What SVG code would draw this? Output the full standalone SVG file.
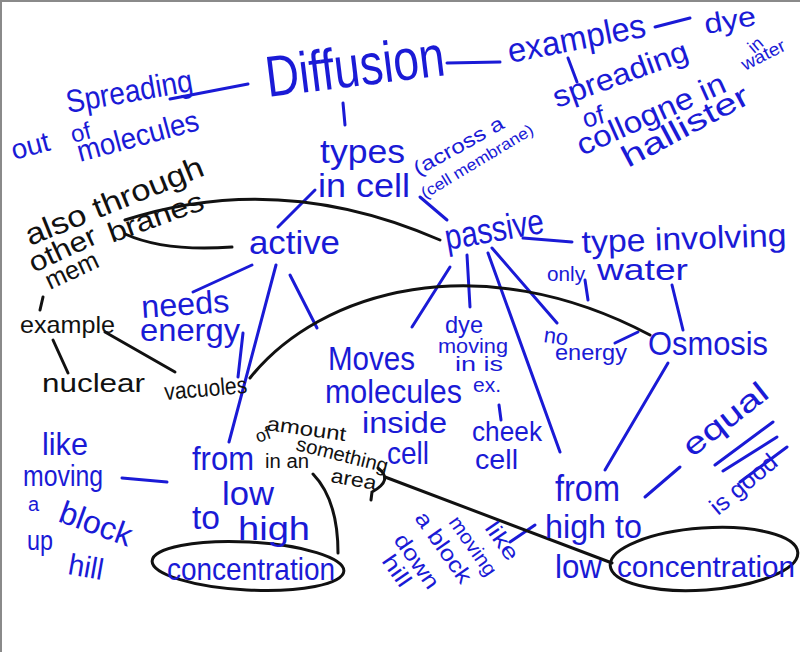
<svg xmlns="http://www.w3.org/2000/svg" width="800" height="652" viewBox="0 0 800 652">
<style>
.b{fill:#1a1ad6;font-family:"Liberation Sans",Arial,sans-serif;}
.k{fill:#111;font-family:"Liberation Sans",Arial,sans-serif;}
.lb{stroke:#1a1ad6;stroke-width:3;fill:none;stroke-linecap:round;}
.lk{stroke:#111;stroke-width:3;fill:none;stroke-linecap:round;}
</style>
<rect x="0" y="0" width="800" height="652" fill="#fff"/>
<path d="M0,1 H800 M1,0 V652" stroke="#8a8a8a" stroke-width="2" fill="none"/>

<g id="connectors">
  <path class="lb" d="M170,99 L248,84"/>
  <path class="lb" d="M447,63 L500,62"/>
  <path class="lb" d="M655,27 L690,18"/>
  <path class="lb" d="M568,58 L577,82"/>
  <path class="lb" d="M343,103 L345,125"/>
  <path class="lb" d="M315,190 L278,227"/>
  <path class="lb" d="M420,197 L447,220"/>
  <path class="lb" d="M523,238 L572,242"/>
  <path class="lb" d="M585,280 L588,300"/>
  <path class="lb" d="M672,285 L683,330"/>
  <path class="lb" d="M615,343 L638,332"/>
  <path class="lb" d="M450,267 L412,327"/>
  <path class="lb" d="M467,255 L470,307"/>
  <path class="lb" d="M488,253 L560,452"/>
  <path class="lb" d="M492,248 L557,323"/>
  <path class="lb" d="M252,265 L193,292"/>
  <path class="lb" d="M276,265 L229,442"/>
  <path class="lb" d="M290,275 L317,328"/>
  <path class="lb" d="M243,333 L238,377"/>
  <path class="lb" d="M499,405 L501,420"/>
  <path class="lb" d="M668,363 L605,470"/>
  <path class="lb" d="M645,497 L680,467"/>
  <path class="lb" d="M510,542 L535,525"/>
  <path class="lb" d="M122,478 L167,482"/>
  <path class="lb" d="M715,465 L773,422 M723,471 L777,437 M740,482 L787,447"/>
  <path class="lk" d="M125,220 Q280,170 440,240"/>
  <path class="lk" d="M125,234 Q165,252 232,247"/>
  <path class="lk" d="M250,378 C320,290 480,245 650,335"/>
  <path class="lk" d="M43,297 L40,310"/>
  <path class="lk" d="M53,340 L68,373"/>
  <path class="lk" d="M105,332 L175,372"/>
  <path class="lk" d="M313,474 Q338,500 338,553"/>
  <path class="lk" d="M378,468 Q394,480 372,492 L371,500"/>
  <path class="lk" d="M385,477 L612,563"/>
  <ellipse class="lk" cx="248" cy="566" rx="96" ry="24" transform="rotate(3 248 566)"/>
  <ellipse class="lk" cx="704" cy="559" rx="94" ry="31" transform="rotate(-4 704 559)"/>
</g>

<g id="diffusion"><text class="b" font-size="58" textLength="180" lengthAdjust="spacingAndGlyphs" transform="translate(268,97) rotate(-7)">Diffusion</text></g>

<g id="definition">
  <text class="b" font-size="32" textLength="128" lengthAdjust="spacingAndGlyphs" transform="translate(68,113) rotate(-10)">Spreading</text>
  <text class="b" font-size="28" transform="translate(14,160) rotate(-15)">out</text>
  <text class="b" font-size="24" transform="translate(73,143) rotate(-15)">of</text>
  <text class="b" font-size="30" textLength="125" lengthAdjust="spacingAndGlyphs" transform="translate(80,162) rotate(-15)">molecules</text>
</g>

<g id="examples">
  <text class="b" font-size="34" textLength="140" lengthAdjust="spacingAndGlyphs" transform="translate(510,63) rotate(-11)">examples</text>
</g>
<g id="dye-in-water">
  <text class="b" font-size="28" textLength="52" lengthAdjust="spacingAndGlyphs" transform="translate(706,34) rotate(-10)">dye</text>
  <text class="b" font-size="18" transform="translate(754,54) rotate(-40)">in</text>
  <text class="b" font-size="18" textLength="47" lengthAdjust="spacingAndGlyphs" transform="translate(745,71) rotate(-27)">water</text>
</g>
<g id="spreading-collogne">
  <text class="b" font-size="30" textLength="142" lengthAdjust="spacingAndGlyphs" transform="translate(557,108) rotate(-20)">spreading</text>
  <text class="b" font-size="26" transform="translate(585,128) rotate(-15)">of</text>
  <text class="b" font-size="30" textLength="160" lengthAdjust="spacingAndGlyphs" transform="translate(582,156) rotate(-24)">collogne in</text>
  <text class="b" font-size="30" textLength="140" lengthAdjust="spacingAndGlyphs" transform="translate(628,168) rotate(-28)">hallister</text>
</g>

<g id="types">
  <text class="b" font-size="34" textLength="85" lengthAdjust="spacingAndGlyphs" x="320" y="163">types</text>
  <text class="b" font-size="34" textLength="92" lengthAdjust="spacingAndGlyphs" x="318" y="197">in cell</text>
  <text class="b" font-size="20" textLength="100" lengthAdjust="spacingAndGlyphs" transform="translate(418,176) rotate(-29)">(across a</text>
  <text class="b" font-size="16" textLength="128" lengthAdjust="spacingAndGlyphs" transform="translate(425,199) rotate(-31)">(cell membrane)</text>
</g>

<g id="active"><text class="b" font-size="34" textLength="91" lengthAdjust="spacingAndGlyphs" x="249" y="254">active</text></g>
<g id="passive"><text class="b" font-size="36" textLength="100" lengthAdjust="spacingAndGlyphs" transform="translate(447,250) rotate(-10)">passive</text></g>

<g id="membranes">
  <text class="k" font-size="30" textLength="190" lengthAdjust="spacingAndGlyphs" transform="translate(30,246) rotate(-22)">also through</text>
  <text class="k" font-size="28" textLength="72" lengthAdjust="spacingAndGlyphs" transform="translate(34,273) rotate(-25)">other</text>
  <text class="k" font-size="26" textLength="56" lengthAdjust="spacingAndGlyphs" transform="translate(50,290) rotate(-25)">mem</text>
  <text class="k" font-size="28" textLength="100" lengthAdjust="spacingAndGlyphs" transform="translate(112,243) rotate(-20)">branes</text>
</g>
<g id="example">
  <text class="k" font-size="24" textLength="95" lengthAdjust="spacingAndGlyphs" x="20" y="333">example</text>
  <text class="k" font-size="26" textLength="103" lengthAdjust="spacingAndGlyphs" x="42" y="392">nuclear</text>
  <text class="k" font-size="24" textLength="83" lengthAdjust="spacingAndGlyphs" transform="translate(165,400) rotate(-5)">vacuoles</text>
</g>
<g id="needs-energy">
  <text class="b" font-size="32" textLength="88" lengthAdjust="spacingAndGlyphs" transform="translate(142,318) rotate(-4)">needs</text>
  <text class="b" font-size="32" textLength="100" lengthAdjust="spacingAndGlyphs" x="140" y="341">energy</text>
</g>

<g id="type-involving">
  <text class="b" font-size="32" textLength="205" lengthAdjust="spacingAndGlyphs" transform="translate(582,253) rotate(-2)">type involving</text>
  <text class="b" font-size="20" textLength="38" lengthAdjust="spacingAndGlyphs" x="547" y="281">only</text>
  <text class="b" font-size="30" textLength="91" lengthAdjust="spacingAndGlyphs" x="597" y="280">water</text>
</g>
<g id="osmosis"><text class="b" font-size="34" textLength="120" lengthAdjust="spacingAndGlyphs" x="648" y="355">Osmosis</text></g>
<g id="no-energy">
  <text class="b" font-size="22" transform="translate(543,342) rotate(8)">no</text>
  <text class="b" font-size="22" textLength="72" lengthAdjust="spacingAndGlyphs" x="555" y="360">energy</text>
</g>

<g id="dye-example">
  <text class="b" font-size="24" textLength="38" lengthAdjust="spacingAndGlyphs" x="445" y="333">dye</text>
  <text class="b" font-size="20" textLength="70" lengthAdjust="spacingAndGlyphs" x="438" y="353">moving</text>
  <text class="b" font-size="20" textLength="48" lengthAdjust="spacingAndGlyphs" x="455" y="371">in is</text>
  <text class="b" font-size="20" textLength="28" lengthAdjust="spacingAndGlyphs" x="473" y="392">ex.</text>
  <text class="b" font-size="28" textLength="70" lengthAdjust="spacingAndGlyphs" x="472" y="441">cheek</text>
  <text class="b" font-size="28" textLength="43" lengthAdjust="spacingAndGlyphs" x="475" y="469">cell</text>
</g>

<g id="moves-molecules">
  <text class="b" font-size="34" textLength="87" lengthAdjust="spacingAndGlyphs" x="328" y="370">Moves</text>
  <text class="b" font-size="34" textLength="137" lengthAdjust="spacingAndGlyphs" x="325" y="403">molecules</text>
  <text class="b" font-size="30" textLength="85" lengthAdjust="spacingAndGlyphs" x="362" y="433">inside</text>
  <text class="b" font-size="32" textLength="42" lengthAdjust="spacingAndGlyphs" x="387" y="464">cell</text>
</g>

<g id="amount">
  <text class="k" font-size="20" textLength="80" lengthAdjust="spacingAndGlyphs" transform="translate(266,430) rotate(8)">amount</text>
  <text class="k" font-size="18" transform="translate(258,443) rotate(-20)">of</text>
  <text class="k" font-size="20" textLength="94" lengthAdjust="spacingAndGlyphs" transform="translate(295,450) rotate(14)">something</text>
  <text class="k" font-size="20" textLength="44" lengthAdjust="spacingAndGlyphs" x="265" y="468">in an</text>
  <text class="k" font-size="20" textLength="46" lengthAdjust="spacingAndGlyphs" transform="translate(330,482) rotate(10)">area</text>
</g>

<g id="like-up-hill">
  <text class="b" font-size="32" textLength="46" lengthAdjust="spacingAndGlyphs" x="42" y="455">like</text>
  <text class="b" font-size="30" textLength="80" lengthAdjust="spacingAndGlyphs" x="23" y="486">moving</text>
  <text class="b" font-size="20" x="28" y="511">a</text>
  <text class="b" font-size="32" textLength="75" lengthAdjust="spacingAndGlyphs" transform="translate(57,521) rotate(20)">block</text>
  <text class="b" font-size="28" textLength="26" lengthAdjust="spacingAndGlyphs" x="27" y="550">up</text>
  <text class="b" font-size="30" textLength="35" lengthAdjust="spacingAndGlyphs" transform="translate(67,574) rotate(10)">hill</text>
</g>

<g id="low-to-high">
  <text class="b" font-size="34" textLength="62" lengthAdjust="spacingAndGlyphs" x="192" y="470">from</text>
  <text class="b" font-size="34" textLength="52" lengthAdjust="spacingAndGlyphs" x="222" y="505">low</text>
  <text class="b" font-size="34" textLength="28" lengthAdjust="spacingAndGlyphs" x="192" y="529">to</text>
  <text class="b" font-size="34" textLength="72" lengthAdjust="spacingAndGlyphs" x="238" y="540">high</text>
</g>
<g id="concentration-left"><text class="b" font-size="32" textLength="168" lengthAdjust="spacingAndGlyphs" x="167" y="580">concentration</text></g>

<g id="high-to-low">
  <text class="b" font-size="36" textLength="65" lengthAdjust="spacingAndGlyphs" x="555" y="501">from</text>
  <text class="b" font-size="34" textLength="97" lengthAdjust="spacingAndGlyphs" x="545" y="538">high to</text>
  <text class="b" font-size="34" textLength="47" lengthAdjust="spacingAndGlyphs" x="555" y="578">low</text>
</g>
<g id="concentration-right"><text class="b" font-size="30" textLength="178" lengthAdjust="spacingAndGlyphs" x="617" y="577">concentration</text></g>

<g id="like-down-hill">
  <text class="b" font-size="22" textLength="42" lengthAdjust="spacingAndGlyphs" transform="translate(484,528) rotate(55)">like</text>
  <text class="b" font-size="20" textLength="68" lengthAdjust="spacingAndGlyphs" transform="translate(448,522) rotate(55)">moving</text>
  <text class="b" font-size="22" textLength="82" lengthAdjust="spacingAndGlyphs" transform="translate(414,518) rotate(55)">a block</text>
  <text class="b" font-size="22" textLength="62" lengthAdjust="spacingAndGlyphs" transform="translate(393,540) rotate(55)">down</text>
  <text class="b" font-size="22" textLength="34" lengthAdjust="spacingAndGlyphs" transform="translate(381,561) rotate(55)">hill</text>
</g>

<g id="equal">
  <text class="b" font-size="30" textLength="100" lengthAdjust="spacingAndGlyphs" transform="translate(692,458) rotate(-38)">equal</text>
  <text class="b" font-size="24" textLength="80" lengthAdjust="spacingAndGlyphs" transform="translate(718,516) rotate(-40)">is good</text>
</g>
</svg>
